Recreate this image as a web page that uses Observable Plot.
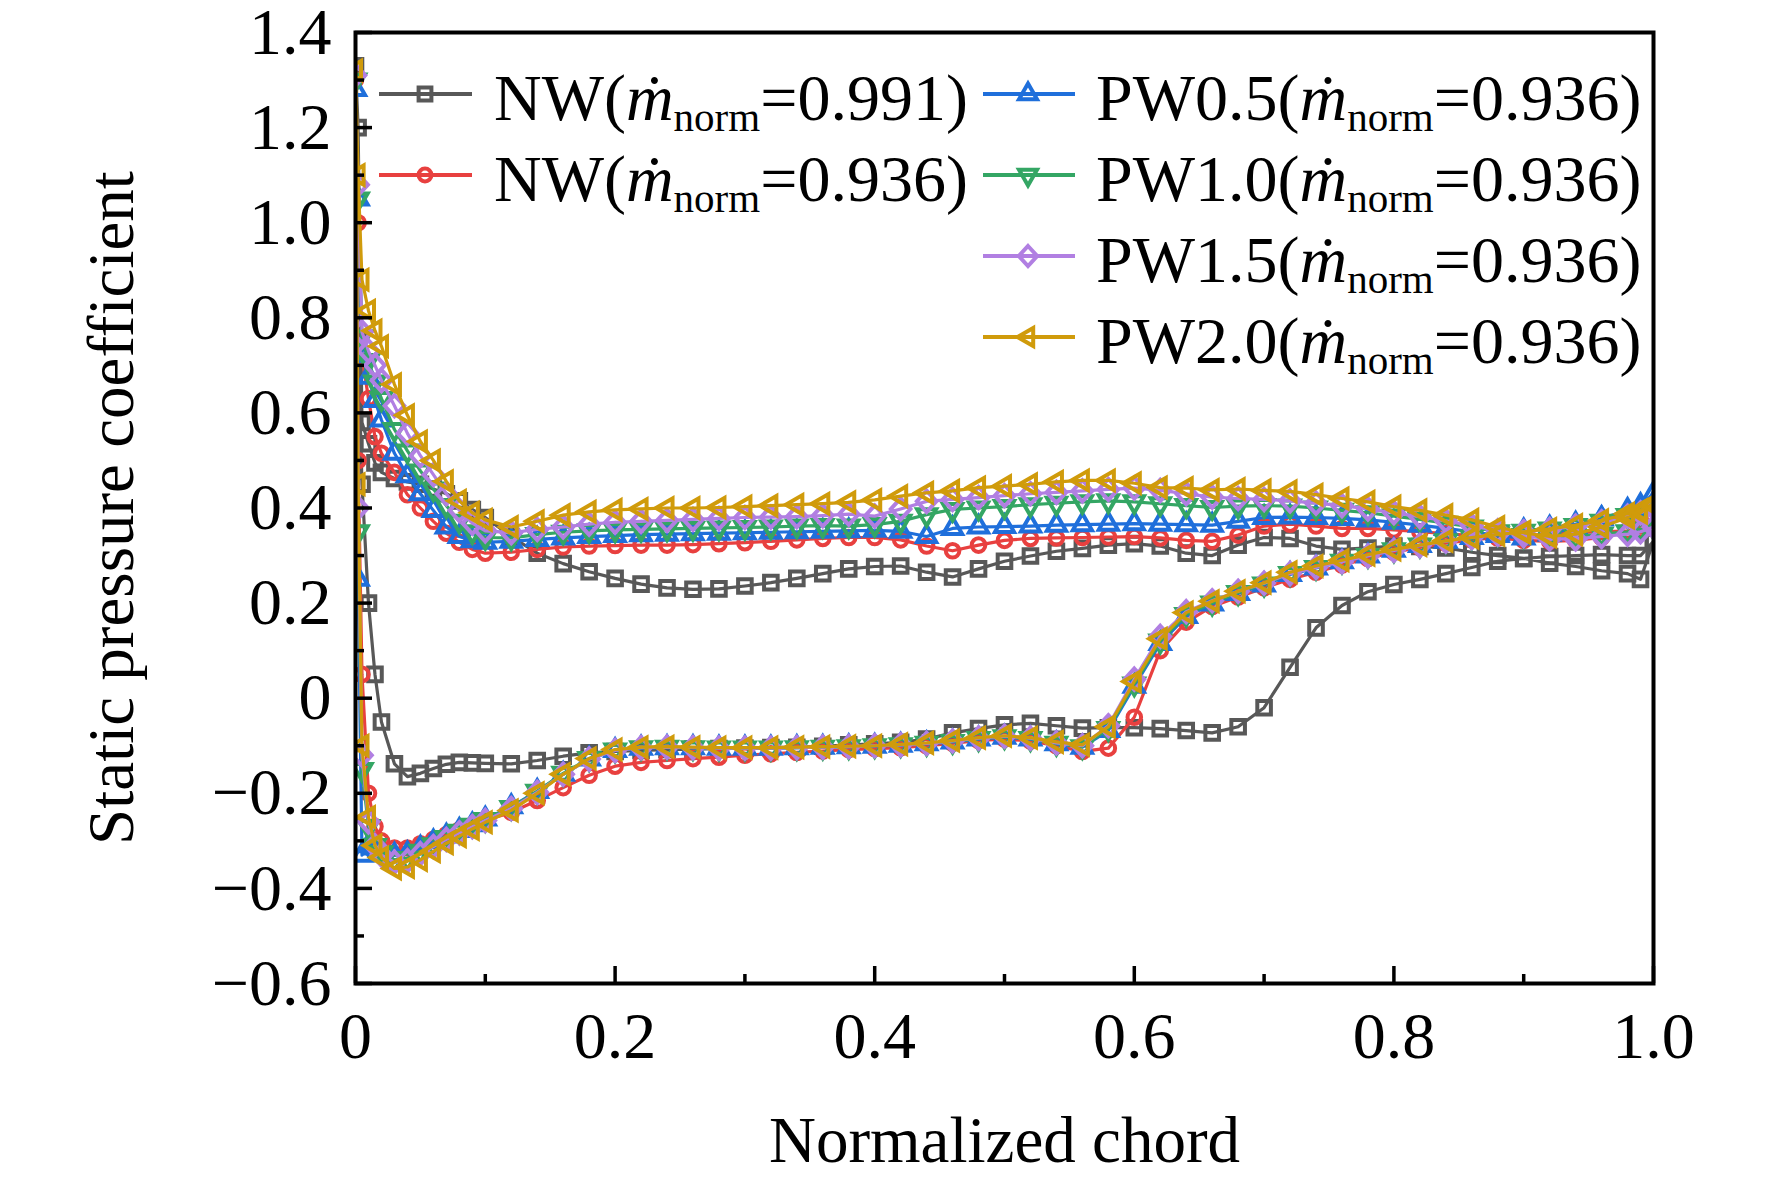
<!DOCTYPE html>
<html><head><meta charset="utf-8">
<script src="https://cdn.jsdelivr.net/npm/d3@7"></script>
<script src="https://cdn.jsdelivr.net/npm/@observablehq/plot@0.6"></script>
<style>html,body{margin:0;padding:0;background:#fff}</style>
</head><body><div id="chart"></div>
<script>
// Normalized chord stations (shared by all series)
const chord = [0,0.002,0.005,0.01,0.015,0.02,0.03,0.04,0.05,0.06,0.07,0.08,0.09,0.1,
  0.12,0.14,0.16,0.18,0.2,0.22,0.24,0.26,0.28,0.3,
  0.32,0.34,0.36,0.38,0.4,0.42,0.44,0.46,0.48,0.5,
  0.52,0.54,0.56,0.58,0.6,0.62,0.64,0.66,0.68,0.7,
  0.72,0.74,0.76,0.78,0.8,0.82,0.84,0.86,0.88,0.9,
  0.92,0.94,0.96,0.98,0.99,1];

// NW (m_norm = 0.991): pressure side / suction side
const nw991P = [1.33,1.2,0.58,0.535,0.495,0.475,0.462,0.455,0.45,0.44,0.43,0.415,0.397,0.38,
  0.34,0.305,0.283,0.266,0.252,0.24,0.232,0.229,0.23,0.236,
  0.243,0.252,0.262,0.272,0.277,0.278,0.265,0.255,0.272,0.288,
  0.299,0.309,0.315,0.322,0.325,0.32,0.305,0.30,0.322,0.338,
  0.336,0.32,0.313,0.316,0.32,0.319,0.316,0.307,0.30,0.294,
  0.284,0.277,0.268,0.262,0.25,0.33];
const nw991S = [1.33,0.75,0.45,0.2,0.05,-0.05,-0.138,-0.165,-0.158,-0.148,-0.139,-0.135,-0.136,-0.137,
  -0.138,-0.131,-0.122,-0.115,-0.112,-0.11,-0.108,-0.107,-0.106,-0.105,
  -0.104,-0.103,-0.101,-0.098,-0.096,-0.093,-0.086,-0.073,-0.064,-0.056,
  -0.053,-0.058,-0.063,-0.062,-0.062,-0.064,-0.068,-0.073,-0.06,-0.02,
  0.065,0.148,0.195,0.224,0.239,0.25,0.262,0.275,0.288,0.294,
  0.298,0.30,0.302,0.30,0.30,0.33];

// NW (m_norm = 0.936)
const nw936P = [1.3,1.0,0.72,0.63,0.55,0.515,0.475,0.428,0.40,0.372,0.347,0.328,0.313,0.305,
  0.307,0.313,0.318,0.32,0.321,0.322,0.322,0.323,0.325,0.327,
  0.33,0.333,0.336,0.338,0.338,0.333,0.32,0.31,0.322,0.332,
  0.336,0.337,0.338,0.339,0.34,0.337,0.332,0.33,0.343,0.362,
  0.366,0.362,0.357,0.357,0.354,0.35,0.346,0.342,0.337,0.332,
  0.33,0.332,0.338,0.35,0.362,0.38];
const nw936S = [1.3,0.5,0.05,-0.2,-0.27,-0.3,-0.315,-0.315,-0.306,-0.297,-0.287,-0.277,-0.267,-0.257,
  -0.24,-0.215,-0.188,-0.162,-0.143,-0.135,-0.131,-0.127,-0.124,-0.12,
  -0.117,-0.114,-0.111,-0.108,-0.106,-0.104,-0.1,-0.095,-0.089,-0.086,
  -0.09,-0.1,-0.112,-0.105,-0.04,0.1,0.16,0.193,0.213,0.232,
  0.25,0.265,0.28,0.294,0.307,0.317,0.326,0.333,0.338,0.342,
  0.345,0.348,0.35,0.352,0.354,0.36];

// PW0.5
const pw05P = [1.28,1.05,0.72,0.675,0.626,0.585,0.515,0.468,0.43,0.395,0.36,0.34,0.331,0.328,
  0.33,0.334,0.337,0.34,0.342,0.344,0.345,0.346,0.347,0.348,
  0.349,0.35,0.351,0.352,0.353,0.351,0.34,0.357,0.36,0.361,
  0.362,0.364,0.365,0.366,0.367,0.366,0.365,0.364,0.372,0.38,
  0.381,0.38,0.378,0.375,0.37,0.364,0.357,0.35,0.342,0.337,
  0.345,0.36,0.378,0.395,0.405,0.43];
const pw05S = [1.28,0.25,-0.33,-0.31,-0.315,-0.322,-0.33,-0.327,-0.315,-0.302,-0.29,-0.278,-0.266,-0.254,
  -0.228,-0.196,-0.16,-0.128,-0.11,-0.105,-0.104,-0.104,-0.105,-0.105,
  -0.105,-0.104,-0.103,-0.102,-0.101,-0.099,-0.096,-0.092,-0.086,-0.082,
  -0.086,-0.096,-0.103,-0.068,0.025,0.115,0.172,0.198,0.22,0.238,
  0.26,0.274,0.287,0.299,0.311,0.321,0.33,0.338,0.346,0.352,
  0.358,0.366,0.377,0.39,0.398,0.41];

// PW1.0
const pw10P = [1.3,1.05,0.76,0.71,0.665,0.63,0.565,0.52,0.478,0.44,0.405,0.372,0.35,0.338,
  0.337,0.344,0.349,0.352,0.354,0.355,0.356,0.357,0.358,0.359,
  0.36,0.362,0.363,0.362,0.365,0.372,0.386,0.397,0.40,0.403,
  0.407,0.41,0.413,0.415,0.413,0.409,0.405,0.401,0.404,0.405,
  0.404,0.40,0.395,0.39,0.383,0.376,0.368,0.36,0.35,0.342,
  0.338,0.34,0.345,0.35,0.355,0.36];
const pw10S = [1.3,0.35,-0.15,-0.27,-0.31,-0.325,-0.34,-0.337,-0.322,-0.308,-0.293,-0.28,-0.267,-0.255,
  -0.23,-0.196,-0.158,-0.127,-0.109,-0.104,-0.103,-0.104,-0.105,-0.105,
  -0.105,-0.104,-0.103,-0.102,-0.1,-0.098,-0.095,-0.091,-0.085,-0.081,
  -0.085,-0.095,-0.102,-0.064,0.03,0.12,0.176,0.2,0.222,0.24,
  0.262,0.275,0.288,0.3,0.312,0.322,0.331,0.339,0.346,0.351,
  0.356,0.363,0.372,0.384,0.39,0.4];

// PW1.5
const pw15P = [1.31,1.08,0.77,0.73,0.70,0.668,0.615,0.557,0.51,0.47,0.43,0.395,0.368,0.352,
  0.348,0.355,0.36,0.366,0.37,0.372,0.374,0.376,0.378,0.38,
  0.381,0.382,0.384,0.387,0.383,0.398,0.414,0.418,0.422,0.426,
  0.43,0.433,0.436,0.439,0.442,0.437,0.43,0.423,0.42,0.418,
  0.415,0.41,0.405,0.398,0.39,0.382,0.373,0.363,0.352,0.342,
  0.335,0.335,0.34,0.345,0.35,0.36];
const pw15S = [1.31,0.4,-0.12,-0.26,-0.31,-0.33,-0.345,-0.342,-0.327,-0.312,-0.297,-0.283,-0.27,-0.257,
  -0.232,-0.198,-0.16,-0.128,-0.11,-0.104,-0.103,-0.104,-0.105,-0.105,
  -0.105,-0.104,-0.103,-0.102,-0.1,-0.098,-0.095,-0.09,-0.084,-0.08,
  -0.084,-0.094,-0.1,-0.058,0.04,0.13,0.182,0.205,0.225,0.242,
  0.262,0.275,0.287,0.299,0.311,0.321,0.33,0.338,0.345,0.35,
  0.355,0.362,0.371,0.383,0.39,0.4];

// PW2.0
const pw20P = [1.32,1.1,0.88,0.815,0.773,0.74,0.66,0.595,0.54,0.50,0.456,0.415,0.39,0.375,
  0.36,0.372,0.385,0.392,0.396,0.398,0.40,0.40,0.401,0.403,
  0.405,0.407,0.409,0.412,0.417,0.425,0.432,0.436,0.443,0.446,
  0.45,0.455,0.458,0.458,0.452,0.443,0.442,0.438,0.44,0.437,
  0.435,0.428,0.42,0.413,0.403,0.395,0.385,0.375,0.36,0.348,
  0.34,0.345,0.36,0.38,0.39,0.41];
const pw20S = [1.32,0.45,-0.1,-0.25,-0.31,-0.335,-0.358,-0.355,-0.34,-0.322,-0.305,-0.29,-0.275,-0.261,
  -0.236,-0.2,-0.16,-0.127,-0.108,-0.103,-0.102,-0.103,-0.104,-0.104,
  -0.104,-0.103,-0.102,-0.101,-0.1,-0.097,-0.094,-0.089,-0.083,-0.079,
  -0.083,-0.092,-0.098,-0.06,0.035,0.125,0.18,0.204,0.225,0.243,
  0.265,0.278,0.29,0.302,0.313,0.322,0.331,0.338,0.344,0.35,
  0.356,0.364,0.374,0.388,0.395,0.405];

const seriesNames = ["NW", "NW", "PW0.5", "PW1.0", "PW1.5", "PW2.0"];
const massFlows = ["0.991", "0.936", "0.936", "0.936", "0.936", "0.936"];
const colors = ["#585858", "#e8403f", "#1f6fdb", "#34a664", "#b17fe2", "#d09b0b"];

const xMajor = [0, 0.2, 0.4, 0.6, 0.8, 1.0];
const xMinor = [0.1, 0.3, 0.5, 0.7, 0.9];
const yMajor = [-0.6, -0.4, -0.2, 0, 0.2, 0.4, 0.6, 0.8, 1.0, 1.2, 1.4];
const yMinor = [-0.5, -0.3, -0.1, 0.1, 0.3, 0.5, 0.7, 0.9, 1.1, 1.3];

// custom hollow marker shapes
const rad = s => Math.sqrt(s / Math.PI);
const symSquare = {draw(c, s) { const h = rad(s) * 0.8; c.rect(-h, -h, 2 * h, 2 * h); }};
const symCircle = {draw(c, s) { const r = rad(s) * 0.8; c.moveTo(r, 0); c.arc(0, 0, r, 0, 2 * Math.PI); }};
const symUp = {draw(c, s) { const R = rad(s) * 1.3; c.moveTo(0, -R); c.lineTo(R * 0.866, R * 0.5); c.lineTo(-R * 0.866, R * 0.5); c.closePath(); }};
const symDown = {draw(c, s) { const R = rad(s) * 1.3; c.moveTo(0, R); c.lineTo(R * 0.866, -R * 0.5); c.lineTo(-R * 0.866, -R * 0.5); c.closePath(); }};
const symDiamond = {draw(c, s) { const r = rad(s); c.moveTo(0, -r * 1.25); c.lineTo(r * 1.15, 0); c.lineTo(0, r * 1.25); c.lineTo(-r * 1.15, 0); c.closePath(); }};
const symLeft = {draw(c, s) { const R = rad(s) * 1.3; c.moveTo(-R, 0); c.lineTo(R * 0.5, -R * 0.866); c.lineTo(R * 0.5, R * 0.866); c.closePath(); }};
const symbols = [symSquare, symCircle, symUp, symDown, symDiamond, symLeft];

const sides = [[nw991P, nw991S], [nw936P, nw936S], [pw05P, pw05S], [pw10P, pw10S], [pw15P, pw15S], [pw20P, pw20S]];

function loop(P, S) {
  const pts = [];
  for (let i = chord.length - 1; i >= 0; i--) pts.push({x: chord[i], y: P[i]});
  for (let i = 1; i < chord.length; i++) pts.push({x: chord[i], y: S[i]});
  return pts;
}

const fmt = d => d === 0 ? "0" : (d < 0 ? "\u2212" : "") + Math.abs(d).toFixed(1);

const dataMarks = [];
sides.forEach(([P, S], k) => {
  const pts = loop(P, S);
  dataMarks.push(Plot.line(pts, {x: "x", y: "y", stroke: colors[k], strokeWidth: 3.2, clip: true}));
  dataMarks.push(Plot.dot(pts, {x: "x", y: "y", stroke: colors[k], fill: "none", strokeWidth: 4, r: 8.5, symbol: symbols[k], clip: true}));
});

const W = 1772, H = 1180, mL = 355, mR = 119, mT = 32, mB = 197;
const plotW = W - mL - mR, plotH = H - mT - mB;

const svg = Plot.plot({
  width: W, height: H,
  marginLeft: mL, marginRight: mR, marginTop: mT, marginBottom: mB,
  x: {domain: [0, 1], label: null},
  y: {domain: [-0.6, 1.4], label: null},
  style: {fontFamily: "Liberation Serif", background: "#fff", color: "#000"},
  marks: [
    ...dataMarks,
    Plot.tickX(xMajor, {x: d => d, insetTop: plotH - 17, stroke: "#000", strokeWidth: 3.5}),
    Plot.tickX(xMinor, {x: d => d, insetTop: plotH - 9, stroke: "#000", strokeWidth: 3.5}),
    Plot.tickY(yMajor, {y: d => d, insetRight: plotW - 17, stroke: "#000", strokeWidth: 3.5}),
    Plot.tickY(yMinor, {y: d => d, insetRight: plotW - 9, stroke: "#000", strokeWidth: 3.5}),
    Plot.frame({stroke: "#000", strokeWidth: 4}),
    Plot.axisX(xMajor, {tickSize: 0, tickPadding: 28, tickFormat: fmt, fontSize: 66, label: null}),
    Plot.axisY(yMajor, {tickSize: 0, tickPadding: 24, tickFormat: fmt, fontSize: 66, label: null}),
    Plot.text(["Normalized chord"], {frameAnchor: "bottom", dy: 178, lineAnchor: "bottom", textAnchor: "middle", text: d => d, fontSize: 65, fill: "#000"}),
    Plot.text(["Static pressure coefficient"], {frameAnchor: "left", rotate: -90, dx: -243, textAnchor: "middle", lineAnchor: "middle", text: d => d, fontSize: 65, fill: "#000"})
  ]
});

// legend inside the plot frame
const g = d3.select(svg).append("g").attr("font-family", "Liberation Serif").attr("fill", "#000").attr("text-anchor", "start");
const colX = [{l0: 379, l1: 472, m: 425, t: 494}, {l0: 983, l1: 1075, m: 1028, t: 1096}];
seriesNames.forEach((name, k) => {
  const col = k < 2 ? colX[0] : colX[1];
  const row = k < 2 ? k : k - 2;
  const y = 94 + 81 * row;
  g.append("line").attr("x1", col.l0).attr("x2", col.l1).attr("y1", y).attr("y2", y)
    .attr("stroke", colors[k]).attr("stroke-width", 4);
  g.append("path").attr("transform", `translate(${col.m},${y})`)
    .attr("d", d3.symbol(symbols[k], Math.PI * 64)())
    .attr("fill", "none").attr("stroke", colors[k]).attr("stroke-width", 4);
  const t = g.append("text").attr("x", col.t).attr("y", y + 26).attr("font-size", 66).attr("text-anchor", "start");
  t.append("tspan").text(name + "(");
  t.append("tspan").attr("font-style", "italic").text("\u1E41");
  t.append("tspan").attr("font-size", 41).attr("dy", 11).text("norm");
  t.append("tspan").attr("dy", -11).text("=" + massFlows[k] + ")");
});

document.getElementById("chart").appendChild(svg);
</script>
</body></html>
